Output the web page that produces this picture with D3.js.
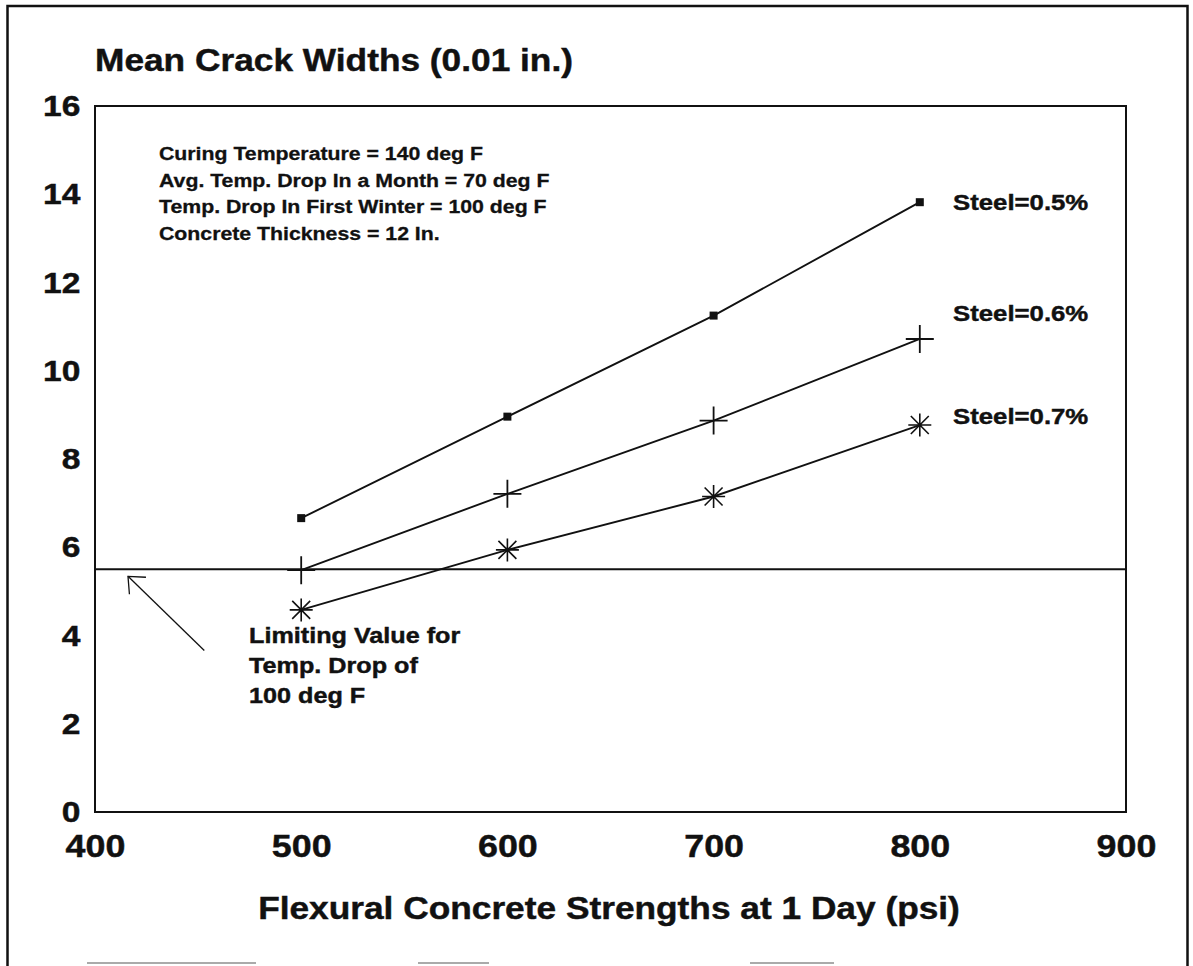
<!DOCTYPE html>
<html>
<head>
<meta charset="utf-8">
<script src="https://cdn.jsdelivr.net/npm/d3@7"></script>
<style>
  html, body { margin: 0; padding: 0; background: #fff; }
  svg { display: block; }
  text { font-family: "Liberation Sans", Arial, Helvetica, sans-serif; font-weight: bold; fill: #111; stroke: #111; stroke-width: 0.45px; }
</style>
</head>
<body>
<script>
// ---- data ----
const strengths = [500, 600, 700, 800];
const steel05 = [6.66, 8.96, 11.25, 13.82];
const steel06 = [5.48, 7.21, 8.87, 10.72];
const steel07 = [4.58, 5.94, 7.15, 8.77];
const seriesLabels = ["Steel=0.5%", "Steel=0.6%", "Steel=0.7%"];
const limitValue = 5.5;
const xTicks = [400, 500, 600, 700, 800, 900];
const yTicks = [0, 2, 4, 6, 8, 10, 12, 14, 16];
const noteLines = [
  "Curing Temperature = 140 deg F",
  "Avg. Temp. Drop In a Month = 70 deg F",
  "Temp. Drop In First Winter = 100 deg F",
  "Concrete Thickness = 12 In."
];
const limitLines = ["Limiting Value for", "Temp. Drop of", "100 deg F"];
const yTitle = "Mean Crack Widths (0.01 in.)";
const xTitle = "Flexural Concrete Strengths at 1 Day (psi)";

// ---- layout ----
const W = 1193, H = 966;
const m = { left: 95, right: 1193 - 1126, top: 106, bottom: 966 - 812 };
const SX = 1.12; // horizontal stretch of lettering

const svg = d3.select("body").append("svg").attr("width", W).attr("height", H);

const x = d3.scaleLinear().domain([400, 900]).range([m.left, W - m.right]);
const y = d3.scaleLinear().domain([0, 16]).range([H - m.bottom, m.top]);

function label(g, tx, ty, str, size, anchor) {
  return g.append("text")
    .attr("transform", `translate(${tx},${ty}) scale(${SX},1)`)
    .attr("text-anchor", anchor || "start")
    .style("font-size", size + "px")
    .text(str);
}

// outer frame (open at bottom)
svg.append("path")
  .attr("d", `M7.5,${H} V6 H1187.5 V${H}`)
  .attr("fill", "none").attr("stroke", "#111").attr("stroke-width", 2.5);

// faint scan marks along the bottom
[[87, 256], [418, 489], [750, 834]].forEach(s => {
  svg.append("line").attr("x1", s[0]).attr("x2", s[1]).attr("y1", 963).attr("y2", 963)
    .attr("stroke", "#aaa").attr("stroke-width", 2);
});

// plot frame
svg.append("rect")
  .attr("x", x(400)).attr("y", y(16))
  .attr("width", x(900) - x(400)).attr("height", y(0) - y(16))
  .attr("fill", "none").attr("stroke", "#111").attr("stroke-width", 2);

// axes
const yAxis = svg.append("g").attr("transform", `translate(${x(400)},0)`)
  .call(d3.axisLeft(y).tickValues(yTicks).tickSize(0).tickPadding(13).tickFormat(d3.format("d")));
yAxis.select(".domain").remove();
yAxis.selectAll("text").style("font-size", "30px")
  .attr("transform", `scale(${SX},1)`);

const xAxis = svg.append("g").attr("transform", `translate(0,${y(0)})`)
  .call(d3.axisBottom(x).tickValues(xTicks).tickSize(0).tickPadding(22).tickFormat(d3.format("d")));
xAxis.select(".domain").remove();
xAxis.selectAll("text").style("font-size", "32px")
  .attr("transform", `scale(${SX},1)`);
svg.selectAll(".tick text").attr("fill", "#111");

// titles
label(svg, 95, 71, yTitle, 31.5, "start");
label(svg, 609, 919, xTitle, 31.5, "middle");

// notes
noteLines.forEach((t, i) => label(svg, 159, 160 + i * 26.5, t, 19, "start").style("stroke-width", "0.3px"));

// limiting line
svg.append("line")
  .attr("x1", x(400)).attr("x2", x(900))
  .attr("y1", y(limitValue)).attr("y2", y(limitValue))
  .attr("stroke", "#111").attr("stroke-width", 2);

// arrow to limiting line
const tip = [x(416), y(limitValue) + 7];
const tail = [x(453), y(3.66)];
svg.append("line").attr("x1", tail[0]).attr("y1", tail[1]).attr("x2", tip[0]).attr("y2", tip[1])
  .attr("stroke", "#111").attr("stroke-width", 1.3);
{
  const ang = Math.atan2(tail[1] - tip[1], tail[0] - tip[0]);
  const L = 18, spread = 0.72;
  const p1 = [tip[0] + L * Math.cos(ang - spread), tip[1] + L * Math.sin(ang - spread)];
  const p2 = [tip[0] + L * Math.cos(ang + spread), tip[1] + L * Math.sin(ang + spread)];
  svg.append("path").attr("d", `M${p1[0]},${p1[1]} L${tip[0]},${tip[1]} L${p2[0]},${p2[1]}`)
    .attr("fill", "none").attr("stroke", "#111").attr("stroke-width", 1.3);
}
limitLines.forEach((t, i) => label(svg, 249, 643 + i * 30, t, 22.5, "start"));

// series
const series = [
  { vals: steel05, marker: "square" },
  { vals: steel06, marker: "plus" },
  { vals: steel07, marker: "star" }
];
const line = d3.line().x(d => x(d[0])).y(d => y(d[1]));

series.forEach((s, si) => {
  const pts = strengths.map((v, i) => [v, s.vals[i]]);
  svg.append("path").datum(pts).attr("d", line)
    .attr("fill", "none").attr("stroke", "#111").attr("stroke-width", 1.9);
  const g = svg.append("g");
  pts.forEach(p => {
    const cx = x(p[0]), cy = y(p[1]);
    if (s.marker === "square") {
      g.append("rect").attr("x", cx - 4).attr("y", cy - 4).attr("width", 8).attr("height", 8)
        .attr("fill", "#111");
    } else if (s.marker === "plus") {
      const r = 14;
      g.append("path").attr("d", `M${cx - r},${cy} H${cx + r} M${cx},${cy - r} V${cy + r}`)
        .attr("stroke", "#111").attr("stroke-width", 1.8).attr("fill", "none");
    } else {
      const r = 11.5, d = r * 0.78;
      g.append("path")
        .attr("d", `M${cx},${cy - r} V${cy + r} M${cx - r},${cy} H${cx + r} M${cx - d},${cy - d} L${cx + d},${cy + d} M${cx - d},${cy + d} L${cx + d},${cy - d}`)
        .attr("stroke", "#111").attr("stroke-width", 1.6).attr("fill", "none");
    }
  });
  const last = pts[pts.length - 1];
  label(svg, 953, y(last[1]) + (si === 0 ? 8 : si === 1 ? -18 : -1), seriesLabels[si], 23, "start");
});
</script>
</body>
</html>
